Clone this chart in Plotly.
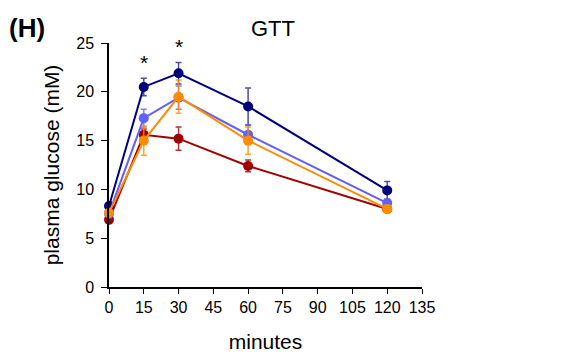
import plotly.graph_objects as go

minutes = [0, 15, 30, 60, 120]

navy_vals = [8.3, 20.5, 21.9, 18.5, 9.9]
navy_err = [0.4, 0.9, 1.1, 1.9, 0.9]
blue_vals = [7.5, 17.3, 19.4, 15.6, 8.6]
blue_err = [0.4, 0.9, 1.2, 1.0, 0.4]
orange_vals = [7.6, 15.0, 19.5, 15.0, 8.0]
orange_err = [0.4, 1.5, 1.7, 1.4, 0.4]
red_vals = [6.9, 15.6, 15.2, 12.4, 8.0]
red_err = [0.4, 0.6, 1.2, 0.6, 0.3]

x_ticks = [0, 15, 30, 45, 60, 75, 90, 105, 120, 135]
y_ticks = [0, 5, 10, 15, 20, 25]
star_x = [15, 30]
star_y = [23.0, 24.6]

series = [
    ("red", red_vals, red_err, "#a00000", "rgba(160,0,0,0.8)"),
    ("navy", navy_vals, navy_err, "#00007f", "rgba(0,0,127,0.7)"),
    ("blue", blue_vals, blue_err, "#6060ff", "rgba(96,96,255,0.8)"),
    ("orange", orange_vals, orange_err, "#ff8c00", "rgba(255,140,0,0.8)"),
]

fig = go.Figure()
for name, vals, err, col, ecol in series:
    fig.add_trace(go.Scatter(
        x=minutes, y=vals, name=name, mode="lines+markers",
        line=dict(color=col, width=2),
        marker=dict(color=col, size=10),
        error_y=dict(type="data", array=err, visible=True, color=ecol, thickness=1.5, width=3),
        showlegend=False, cliponaxis=False,
    ))

for sx, sy in zip(star_x, star_y):
    fig.add_annotation(x=sx, y=sy, text="*", showarrow=False,
                       font=dict(size=21, color="black", family="Liberation Sans, Arial"))

fig.add_annotation(xref="paper", yref="paper", x=0.523, y=1.0, yanchor="bottom",
                   text="GTT", showarrow=False,
                   font=dict(size=22, color="black", family="Liberation Sans, Arial"))
fig.add_annotation(xref="paper", yref="paper", x=-0.325, y=0.99, yanchor="bottom", xanchor="left",
                   text="<b>(H)</b>", showarrow=False,
                   font=dict(size=26, color="black", family="Liberation Sans, Arial"))

fig.update_layout(
    width=569, height=353,
    margin=dict(l=109, r=147, t=43, b=66, autoexpand=False),
    paper_bgcolor="white", plot_bgcolor="white",
    font=dict(family="Liberation Sans, Arial", color="black", size=16),
    xaxis=dict(range=[0, 135], tickvals=x_ticks, showgrid=False, zeroline=False,
               showline=True, linecolor="black", linewidth=1.5, ticks="outside",
               ticklen=5, tickcolor="black", automargin=False,
               title=dict(text="minutes", font=dict(size=21), standoff=19)),
    yaxis=dict(range=[0, 25], tickvals=y_ticks, showgrid=False, zeroline=False,
               showline=True, linecolor="black", linewidth=1.5, ticks="outside",
               ticklen=6, tickcolor="black", automargin=False, ticklabelstandoff=4,
               title=dict(text="plasma glucose (mM)", font=dict(size=21), standoff=11)),
)

fig.write_html("out.html")
